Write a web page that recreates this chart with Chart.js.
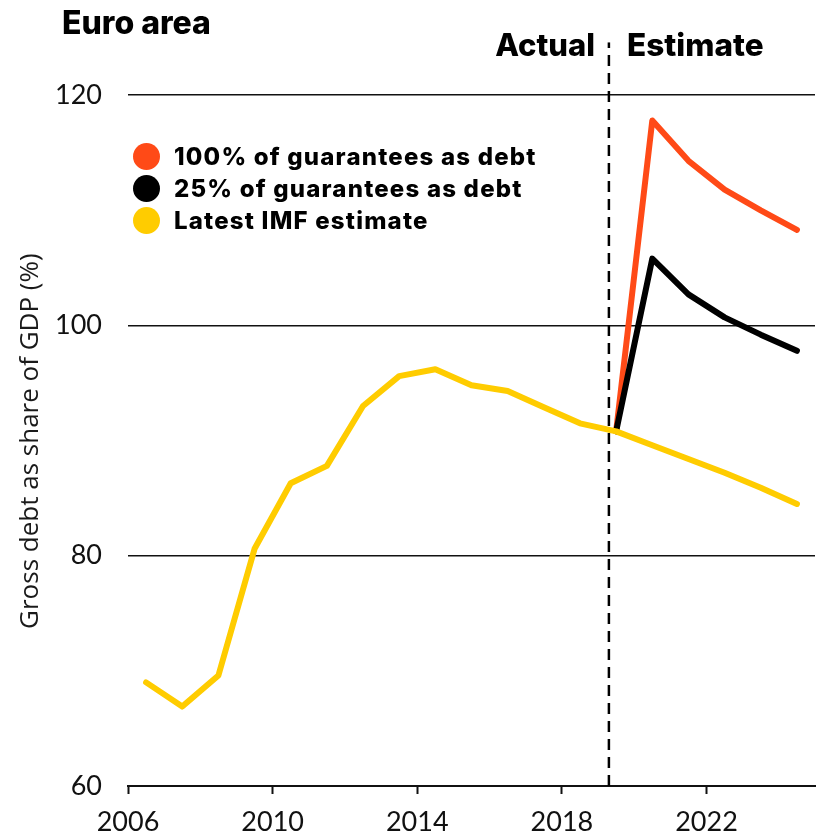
<!DOCTYPE html>
<html>
<head>
<meta charset="utf-8">
<script src="https://cdn.jsdelivr.net/npm/chart.js@4.4.1/dist/chart.umd.min.js"></script>
<style>
  body { margin: 0; background: #fff; }
  #wrap { position: relative; width: 817px; height: 837px; font-family: Inter, sans-serif; color: #000; }
  #wrap canvas { position: absolute; left: 0; top: 0; }
  .lbl { position: absolute; font-weight: 800; line-height: 1; white-space: nowrap; }
  #title { left: 62px; top: 7px; font-size: 32px; }
  #actual { right: 222px; top: 29px; font-size: 31px; }
  #estimate { left: 627px; top: 29px; font-size: 31.5px; }
  #legend { position: absolute; left: 133px; top: 140px; }
  #legend div { height: 32px; display: flex; align-items: center; font-weight: 800; font-size: 24px; letter-spacing: 1.2px; }
  #legend span.dot { display: inline-block; width: 27px; height: 27px; border-radius: 50%; margin-right: 14px; }
</style>
</head>
<body>
<div id="wrap">
  <canvas id="debt-chart" width="817" height="837"></canvas>
  <div class="lbl" id="title">Euro area</div>
  <div class="lbl" id="actual">Actual</div>
  <div class="lbl" id="estimate">Estimate</div>
  <div id="legend"></div>
</div>

<script>
// years are plotted mid-year
const years = [2006.5, 2007.5, 2008.5, 2009.5, 2010.5, 2011.5, 2012.5, 2013.5, 2014.5, 2015.5,
               2016.5, 2017.5, 2018.5, 2019.5, 2020.5, 2021.5, 2022.5, 2023.5, 2024.5];
const imfEstimate = [69.0, 66.9, 69.6, 80.6, 86.3, 87.8, 93.0, 95.6, 96.2, 94.8,
                     94.3, 92.9, 91.5, 90.8, 89.6, 88.4, 87.2, 85.9, 84.5];
const guarantees100 = [null, null, null, null, null, null, null, null, null, null,
                       null, null, null, 90.8, 117.8, 114.3, 111.8, 110.0, 108.3];
const guarantees25 = [null, null, null, null, null, null, null, null, null, null,
                      null, null, null, 90.8, 105.8, 102.7, 100.7, 99.2, 97.8];
const seriesNames = ['100% of guarantees as debt', '25% of guarantees as debt', 'Latest IMF estimate'];
const seriesColors = ['#FF4A17', '#000000', '#FFCC00'];
const xTicks = [2006, 2010, 2014, 2018, 2022];
const yTicks = [60, 80, 100, 120];
const splitYear = 2019.3;

function toPoints(vals) {
    return years.map((x, i) => ({ x: x, y: vals[i] }));
}

// html legend
const legendEl = document.getElementById('legend');
seriesNames.forEach(function(name, i) {
    legendEl.innerHTML += '<div><span class="dot" style="background:' + seriesColors[i] + '"></span>' + name + '</div>';
});

const ctx = document.getElementById('debt-chart').getContext('2d');
const myChart = new Chart(ctx, {
    type: 'line',
    data: {
        datasets: [{
            label: seriesNames[2],
            data: toPoints(imfEstimate),
            borderColor: seriesColors[2],
            borderWidth: 6,
            order: 0
        }, {
            label: seriesNames[0],
            data: toPoints(guarantees100),
            borderColor: seriesColors[0],
            borderWidth: 6,
            order: 2
        }, {
            label: seriesNames[1],
            data: toPoints(guarantees25),
            borderColor: seriesColors[1],
            borderWidth: 6,
            order: 1
        }, {
            label: 'split',
            data: [{ x: splitYear, y: 60 }, { x: splitYear, y: 124.6 }],
            borderColor: '#000',
            borderWidth: 2.5,
            borderDash: [11, 7],
            borderCapStyle: 'butt',
            order: 3
        }]
    },
    options: {
        responsive: false,
        devicePixelRatio: 1,
        animation: false,
        layout: { padding: { top: 33, right: 2, left: 0, bottom: 0 } },
        elements: {
            point: { radius: 0 },
            line: { tension: 0, borderCapStyle: 'round', borderJoinStyle: 'round', spanGaps: false }
        },
        plugins: { legend: { display: false }, tooltip: { enabled: false } },
        scales: {
            x: {
                type: 'linear',
                min: 2006,
                max: 2025,
                afterBuildTicks: function(scale) { scale.ticks = xTicks.map(v => ({ value: v })); },
                afterFit: function(scale) { scale.height = 51; },
                ticks: {
                    callback: v => String(v),
                    color: '#111',
                    font: { family: 'Lato', size: 27 },
                    padding: 12,
                    maxRotation: 0,
                    autoSkip: false
                },
                grid: { drawOnChartArea: false, drawTicks: true, tickLength: 8, tickWidth: 2, tickColor: '#111' },
                border: { display: true, color: '#111', width: 2 }
            },
            y: {
                min: 60,
                max: 124.6,
                afterBuildTicks: function(scale) { scale.ticks = yTicks.map(v => ({ value: v })); },
                afterFit: function(scale) { scale.width = 128; },
                ticks: {
                    color: '#111',
                    font: { family: 'Lato', size: 27 },
                    padding: 26
                },
                grid: {
                    drawTicks: false,
                    color: c => (c.tick && c.tick.value === 60) ? 'rgba(0,0,0,0)' : '#111',
                    lineWidth: 1.5
                },
                border: { display: false },
                title: {
                    display: true,
                    text: 'Gross debt as share of GDP (%)        ',
                    color: '#1a1a1a',
                    font: { family: 'Open Sans', size: 26 },
                    padding: { top: 15, bottom: 0 }
                }
            }
        }
    }
});
</script>
</body>
</html>
